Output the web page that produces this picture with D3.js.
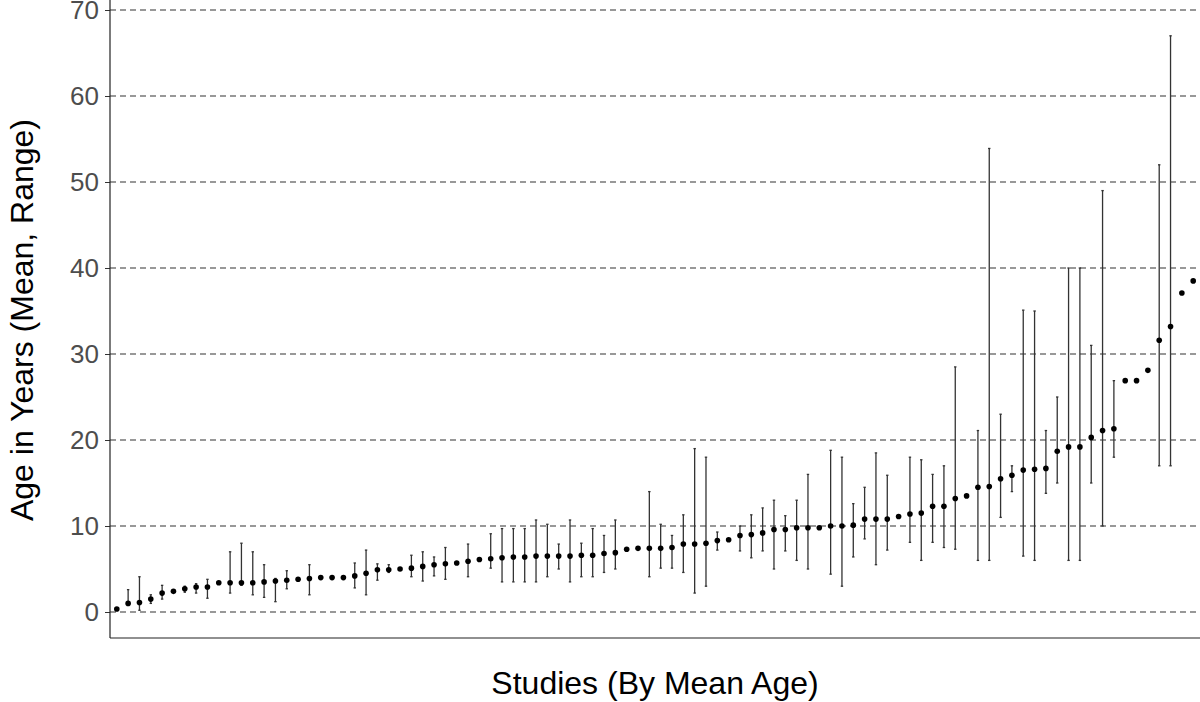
<!DOCTYPE html>
<html>
<head>
<meta charset="utf-8">
<script src="https://cdn.jsdelivr.net/npm/d3@7"></script>
<style>
  body { margin: 0; background: #fff; }
  text { font-family: Arial, "Liberation Sans", sans-serif; }
</style>
</head>
<body>
<svg id="chart" width="1200" height="702"></svg>
<script>
// mean age per study, sorted
var means = [0.35,1.0,1.1,1.5,2.2,2.4,2.7,2.9,2.9,3.4,3.4,3.4,3.4,3.5,3.6,3.7,3.8,3.9,4.0,4.0,4.0,4.2,4.5,4.9,4.9,5.0,
  5.1,5.3,5.5,5.6,5.7,5.9,6.1,6.2,6.3,6.4,6.4,6.5,6.5,6.5,6.5,6.6,6.6,6.8,6.9,7.3,7.4,7.4,7.4,7.5,7.9,7.9,
  8.0,8.3,8.4,8.9,9.0,9.2,9.6,9.6,9.8,9.8,9.8,10.0,10.0,10.1,10.8,10.8,10.8,11.1,11.4,11.5,12.3,12.3,13.2,
  13.5,14.5,14.6,15.5,15.9,16.5,16.6,16.7,18.7,19.2,19.2,20.3,21.1,21.3,26.9,26.9,28.1,31.6,33.2,37.1,38.5];
// range min / max (null = no range reported)
var lows = [null,0.9,0.2,1.0,1.5,null,2.3,2.2,1.6,null,2.2,3.1,2.0,1.7,1.2,2.7,null,2.0,null,null,null,2.8,2.0,3.7,4.6,null,
  4.1,3.6,4.2,3.8,null,4.1,null,5.1,3.5,3.5,3.5,3.5,4.1,5.0,3.5,4.1,4.1,4.6,5.0,null,null,4.1,5.1,5.1,4.6,2.2,
  3.0,7.2,null,7.1,6.3,7.1,5.0,7.1,6.0,5.0,null,4.4,3.0,6.4,8.5,5.5,7.2,null,8.1,6.0,8.1,7.5,7.3,
  null,6.0,6.0,11.0,14.0,6.5,6.0,13.8,15.0,6.0,6.0,15.0,10.0,18.0,null,null,null,17.0,17.0,null,null];
var highs = [null,2.6,4.1,2.0,3.1,null,3.0,3.3,3.8,null,7.0,8.0,7.0,5.5,3.9,4.8,null,5.5,null,null,null,5.7,7.2,5.6,5.5,null,
  6.6,7.0,6.4,7.5,null,7.9,null,9.1,9.7,9.7,9.7,10.7,10.2,7.9,10.7,8.0,9.7,8.9,10.7,null,null,14.0,10.2,8.9,11.3,19.0,
  18.0,9.3,null,10.0,11.3,12.1,13.0,11.2,13.0,16.0,null,18.8,18.0,12.6,14.5,18.5,15.9,null,18.0,17.7,16.0,17.0,28.5,
  null,21.1,53.9,23.0,17.0,35.1,35.0,21.1,25.0,40.0,40.0,31.0,49.0,26.9,null,null,null,52.0,67.0,null,null];
var yTicks = [0,10,20,30,40,50,60,70];

var svg = d3.select('#chart');
var left = 110, right = 1200, bottom = 638;

var x = d3.scalePoint()
  .domain(d3.range(means.length))
  .range([left, right])
  .padding(0.6);
var y = d3.scaleLinear().domain([0, 70]).range([612, 10]);

// dashed gridlines
svg.append('g').selectAll('line')
  .data(yTicks).enter().append('line')
  .attr('x1', left).attr('x2', right)
  .attr('y1', function(d){ return y(d); })
  .attr('y2', function(d){ return y(d); })
  .attr('stroke', '#333')
  .attr('stroke-width', 1.2)
  .attr('stroke-dasharray', '6,4');

// y axis
var yAxis = d3.axisLeft(y).tickValues(yTicks).tickSize(5).tickPadding(6);
var ga = svg.append('g').attr('transform', 'translate(' + left + ',0)').call(yAxis);
ga.select('.domain').remove();
ga.selectAll('.tick line').attr('stroke', '#333');
ga.selectAll('.tick text')
  .attr('fill', '#4d4d4d')
  .style('font-size', '26px')
  .style('font-family', 'Arial, "Liberation Sans", sans-serif');

svg.append('line').attr('x1', left).attr('x2', left).attr('y1', 0).attr('y2', bottom)
  .attr('stroke', '#222').attr('stroke-width', 1.2);
svg.append('line').attr('x1', left).attr('x2', right).attr('y1', bottom).attr('y2', bottom)
  .attr('stroke', '#222').attr('stroke-width', 1.2);

// ranges
var idx = d3.range(means.length).filter(function(i){ return lows[i] != null; });
var bars = svg.append('g').selectAll('g').data(idx).enter().append('g');
bars.append('line')
  .attr('x1', function(i){ return x(i); }).attr('x2', function(i){ return x(i); })
  .attr('y1', function(i){ return y(lows[i]); }).attr('y2', function(i){ return y(highs[i]); })
  .attr('stroke', '#333').attr('stroke-width', 1.3);
[lows, highs].forEach(function(arr){
  bars.append('line')
    .attr('x1', function(i){ return x(i) - 1.2; }).attr('x2', function(i){ return x(i) + 1.2; })
    .attr('y1', function(i){ return y(arr[i]); }).attr('y2', function(i){ return y(arr[i]); })
    .attr('stroke', '#333').attr('stroke-width', 1.3);
});

// means
svg.append('g').selectAll('circle').data(means).enter().append('circle')
  .attr('cx', function(d, i){ return x(i); })
  .attr('cy', function(d){ return y(d); })
  .attr('r', 2.8)
  .attr('fill', '#000');

// titles
svg.append('text').attr('x', (left + right) / 2).attr('y', 694)
  .attr('text-anchor', 'middle').style('font-size', '32px').attr('fill', '#000')
  .text('Studies (By Mean Age)');
svg.append('text').attr('transform', 'translate(33,' + 320 + ') rotate(-90)')
  .attr('text-anchor', 'middle').style('font-size', '32px').attr('fill', '#000')
  .text('Age in Years (Mean, Range)');
</script>
</body>
</html>
